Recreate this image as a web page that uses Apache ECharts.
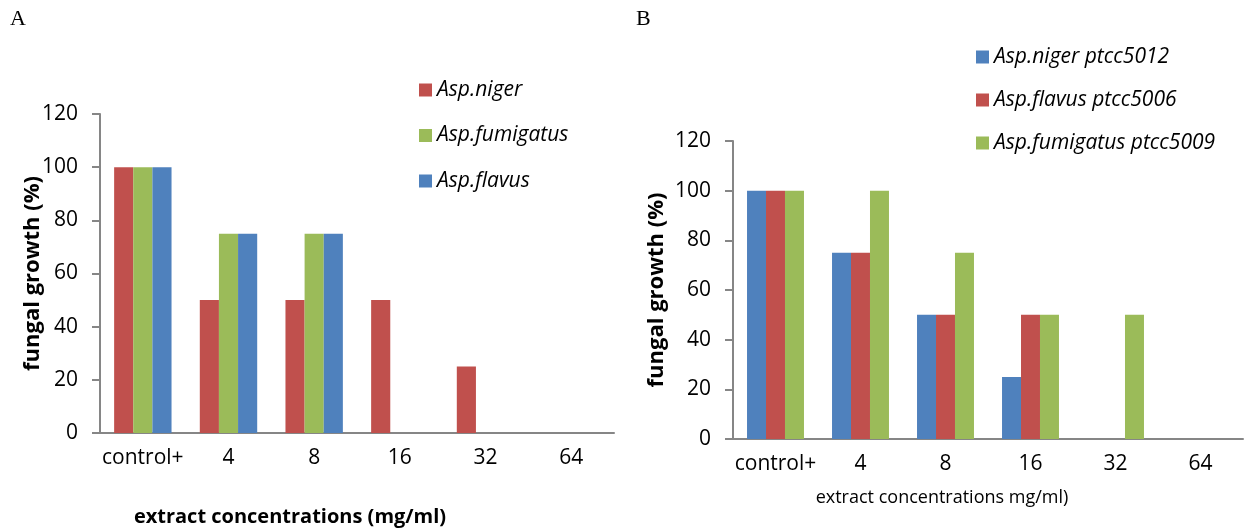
<!DOCTYPE html>
<html>
<head>
<meta charset="utf-8">
<script src="https://cdn.jsdelivr.net/npm/echarts@6/dist/echarts.min.js"></script>
<style>html,body{margin:0;padding:0;background:#fff}#c{width:1244px;height:530px}</style>
</head>
<body>
<div id="c"></div>
<script>
const categories = ['control+', '4', '8', '16', '32', '64'];
const yTicks = [0, 20, 40, 60, 80, 100, 120];

// Panel A
const aNiger = [100, 50, 50, 50, 25, 0];
const aFumigatus = [100, 75, 75, 0, 0, 0];
const aFlavus = [100, 75, 75, 0, 0, 0];
// Panel B
const bNiger = [100, 75, 50, 25, 0, 0];
const bFlavus = [100, 75, 50, 50, 0, 0];
const bFumigatus = [100, 100, 75, 50, 50, 0];

const RED = '#C0504D', GREEN = '#9BBB59', BLUE = '#4F81BD';
const FONT = 'Open Sans';
const chart = echarts.init(document.getElementById('c'), null, {renderer: 'canvas'});

function xAx(gi) {
  return {
    type: 'category', gridIndex: gi, data: categories,
    axisLine: {lineStyle: {color: '#868686', width: 2}},
    axisTick: {show: false},
    axisLabel: {color: '#000', fontSize: 21, fontFamily: FONT, margin: 15, interval: 0}
  };
}
function yAx(gi, gap) {
  return {
    type: 'value', gridIndex: gi, min: yTicks[0], max: yTicks[yTicks.length - 1], interval: 20,
    name: 'fungal growth (%)', nameLocation: 'middle', nameGap: gap, nameMoveOverlap: false,
    nameTextStyle: {color: '#000', fontSize: 22, fontWeight: 'bold', fontFamily: FONT},
    axisLine: {show: true, lineStyle: {color: '#868686', width: 2}},
    axisTick: {show: true, length: 8, lineStyle: {color: '#868686', width: 2}},
    splitLine: {show: false},
    axisLabel: {color: '#000', fontSize: 21, fontFamily: FONT, margin: 22}
  };
}
function bar(name, data, color, idx) {
  return {
    name: name, type: 'bar', data: data, xAxisIndex: idx, yAxisIndex: idx,
    barGap: '0%', barCategoryGap: '33%', itemStyle: {color: color},
    silent: true
  };
}
const legendText = {color: '#000', fontSize: 21, fontStyle: 'italic', fontFamily: FONT, lineHeight: 22};

chart.setOption({
  animation: false,
  grid: [
    {left: 100, top: 114, width: 514, height: 319},
    {left: 733, top: 141, width: 510, height: 298}
  ],
  xAxis: [xAx(0), xAx(1)],
  yAxis: [yAx(0, 56), yAx(1, 65)],
  legend: [
    {orient: 'vertical', left: 419, top: 79, padding: 0, itemWidth: 13, itemHeight: 13, itemGap: 23.5,
     icon: 'rect', textStyle: legendText, selectedMode: false,
     data: ['Asp.niger', 'Asp.fumigatus', 'Asp.flavus']},
    {orient: 'vertical', left: 976, top: 46, padding: 0, itemWidth: 13, itemHeight: 13, itemGap: 21,
     icon: 'rect', textStyle: legendText, selectedMode: false,
     data: ['Asp.niger ptcc5012', 'Asp.flavus ptcc5006', 'Asp.fumigatus ptcc5009']}
  ],
  graphic: [
    {type: 'text', left: 10, top: 8, style: {text: 'A', fontSize: 22, fontFamily: 'Liberation Serif', fill: '#000'}},
    {type: 'text', left: 636, top: 8, style: {text: 'B', fontSize: 22, fontFamily: 'Liberation Serif', fill: '#000'}},
    {type: 'text', x: 290, y: 517, style: {text: 'extract concentrations (mg/ml)', fontSize: 20, fontWeight: 'bold', fontFamily: FONT, fill: '#000', align: 'center', verticalAlign: 'middle'}},
    {type: 'text', x: 942, y: 498, style: {text: 'extract concentrations mg/ml)', fontSize: 18, fontFamily: FONT, fill: '#000', align: 'center', verticalAlign: 'middle'}}
  ],
  series: [
    bar('Asp.niger', aNiger, RED, 0),
    bar('Asp.fumigatus', aFumigatus, GREEN, 0),
    bar('Asp.flavus', aFlavus, BLUE, 0),
    bar('Asp.niger ptcc5012', bNiger, BLUE, 1),
    bar('Asp.flavus ptcc5006', bFlavus, RED, 1),
    bar('Asp.fumigatus ptcc5009', bFumigatus, GREEN, 1)
  ]
});
</script>
</body>
</html>
